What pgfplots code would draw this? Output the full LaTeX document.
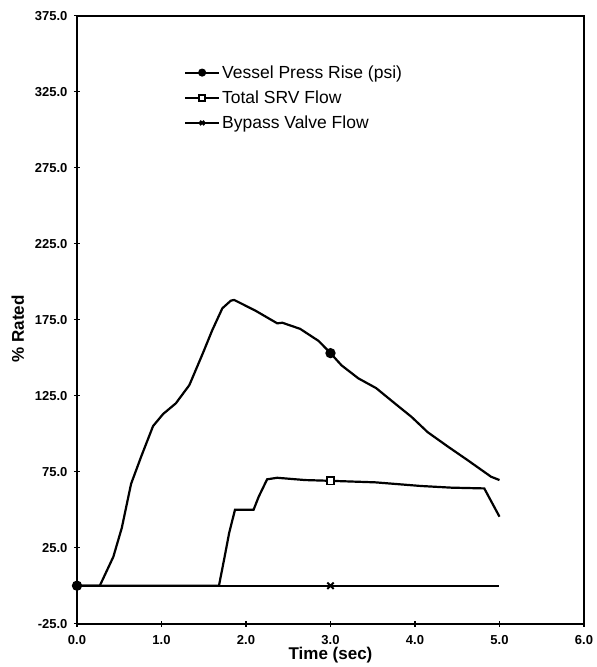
\documentclass[border=0pt]{standalone}
\usepackage{fontspec}
\setmainfont{Liberation Sans}
\usepackage{pgfplots}
\pgfplotsset{compat=1.18}

\begin{document}
\begin{tikzpicture}
\begin{axis}[
  scale only axis,
  width=507pt, height=608pt,
  xmin=0, xmax=6, ymin=-25, ymax=375,
  xtick={0,1,2,3,4,5,6},
  ytick={-25,25,75,125,175,225,275,325,375},
  xtick pos=bottom, ytick pos=left,
  tick align=center,
  major tick length=6pt,
  tick style={line width=1.5pt, black},
  axis line style={line width=2pt},
  /pgf/number format/assume math mode=true,
  /pgf/number format/.cd, fixed, fixed zerofill, precision=1, /pgfplots/.cd,
  tick label style={font=\bfseries\fontsize{13}{15}\selectfont},
  xticklabel style={yshift=-5pt},
  yticklabel style={xshift=-3pt},
  xlabel={Time (sec)},
  ylabel={\% Rated},
  label style={font=\bfseries\fontsize{17}{19}\selectfont},
  xlabel style={yshift=4pt},
  ylabel style={yshift=4pt, xshift=-9pt},
  reverse legend,
  legend cell align=left,
  legend style={
    draw=none, fill=none,
    at={(axis description cs:0.205,0.925)}, anchor=north west,
    font=\fontsize{17.5}{19}\selectfont,
    row sep=7pt,
    nodes={inner sep=2pt},
  },
  legend image code/.code={%
    \draw[#1, line width=2pt, mark size=3pt, mark indices={2}]
      plot coordinates {(0pt,0pt) (17pt,0pt) (34pt,0pt)};},
]

% bypass valve flow
\addplot[black, line width=2.2pt, mark=x, mark size=4.5pt, mark options={line width=2pt}, mark indices={2}] coordinates {
  (0,0) (3,0) (5,0)
};
\addlegendentry{Bypass Valve Flow}

% total safety/relief valve flow
\addplot[black, line width=2.2pt, mark=square*, mark size=3.6pt, mark options={fill=white, line width=1.8pt}, mark indices={11}] coordinates {
  (0,0) (1.68,0) (1.74,17) (1.80,34.5) (1.87,50) (2.09,50) (2.15,58.5)
  (2.25,70) (2.37,71) (2.70,69.5) (3.00,69) (3.53,68) (4.07,65.6)
  (4.43,64.5) (4.82,64) (5.00,45.4)
};
\addlegendentry{Total SRV Flow}

% vessel pressure rise
\addplot[black, line width=2.2pt, mark=*, mark size=4pt, mark indices={1,21}] coordinates {
  (0,0) (0.27,0) (0.43,19) (0.53,38) (0.64,67) (0.76,85) (0.90,105)
  (1.02,113) (1.17,120) (1.33,132) (1.49,153) (1.60,168) (1.72,182.5)
  (1.82,187.5) (1.86,188) (2.11,181) (2.37,172.6) (2.43,173) (2.64,169)
  (2.86,161) (3.00,153) (3.13,145) (3.33,136.4) (3.54,130) (3.76,120)
  (3.96,111) (4.15,101) (4.39,91.5) (4.62,82.7) (4.90,71.7) (5.00,69.5)
};
\addlegendentry{Vessel Press Rise (psi)}

\end{axis}
\path (-77pt,-43.3pt) rectangle (519pt,623.7pt);
\end{tikzpicture}
\end{document}
